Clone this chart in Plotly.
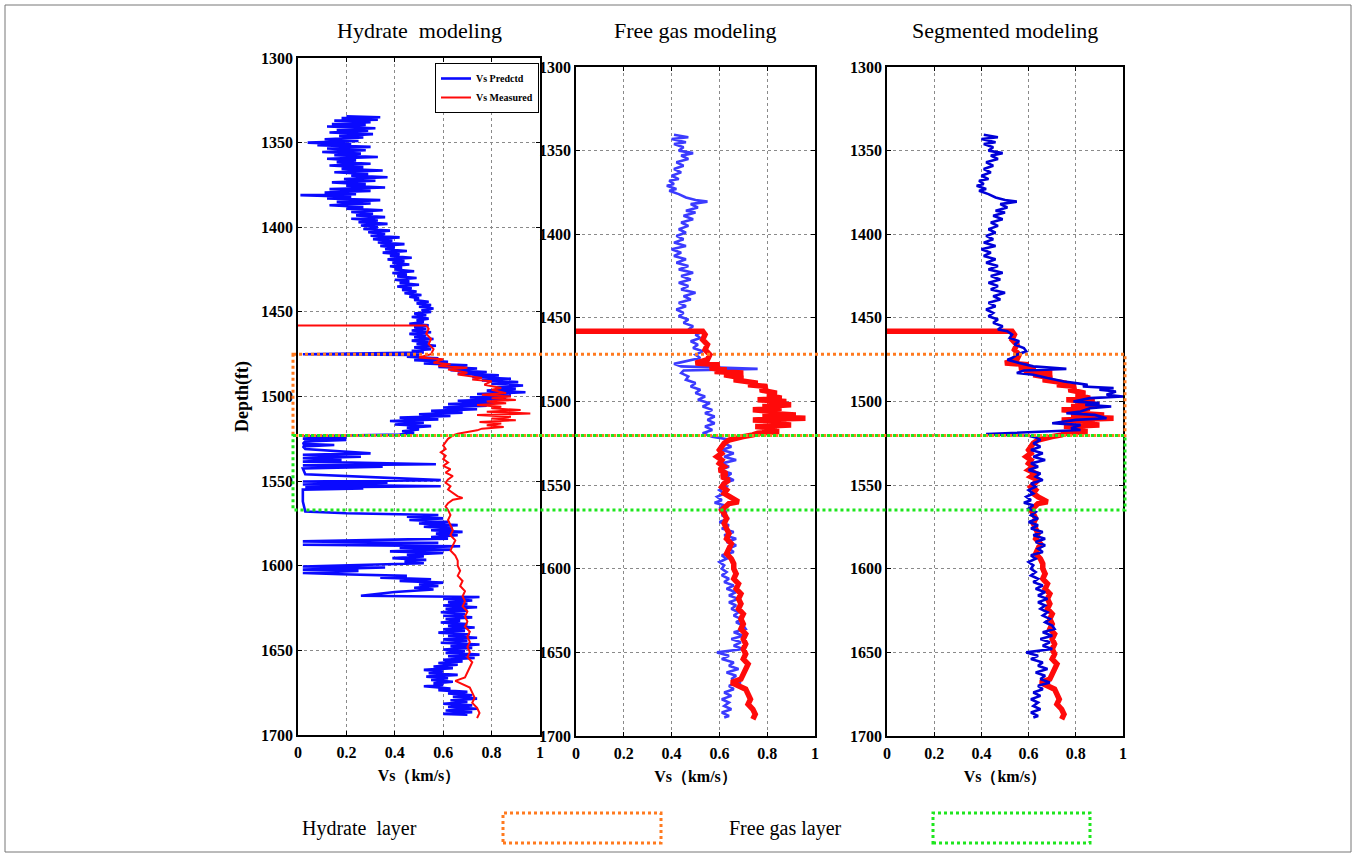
import plotly.graph_objects as go

# ---------------- data ----------------
depth_ticks = [1300, 1350, 1400, 1450, 1500, 1550, 1600, 1650, 1700]
vs_ticks = [0, 0.2, 0.4, 0.6, 0.8, 1]
vs_tick_labels = ["0", "0.2", "0.4", "0.6", "0.8", "1"]

panel_titles = ["Hydrate  modeling", "Free gas modeling", "Segmented modeling"]

# layer intervals (ft): top, bottom
hydrate_layer = [1475, 1523]
free_gas_layer = [1523, 1567]

# measured Vs (km/s)
meas_depth = [1458, 1458, 1460, 1463, 1466, 1469, 1472, 1475, 1477, 1478, 1480, 1481, 1482, 1483, 1484,
              1486, 1487, 1489, 1490, 1491, 1493, 1495, 1496, 1498, 1499, 1500, 1501, 1502, 1503, 1504,
              1505, 1506, 1507, 1508, 1509, 1510, 1511, 1512, 1513, 1514, 1515, 1516, 1517, 1518, 1519,
              1520, 1521, 1522, 1523, 1525, 1527, 1529, 1531, 1533, 1535, 1537, 1539, 1541, 1543, 1545,
              1547, 1549, 1551, 1553, 1555, 1557, 1559, 1560, 1561, 1563, 1565, 1567, 1570, 1573, 1576,
              1579, 1582, 1585, 1588, 1591, 1594, 1597, 1600, 1603, 1606, 1609, 1612, 1615, 1618, 1621,
              1624, 1627, 1630, 1633, 1636, 1639, 1642, 1645, 1648, 1651, 1654, 1657, 1660, 1663, 1666,
              1668, 1670, 1672, 1675, 1678, 1681, 1684, 1687, 1690]
meas_vs = [0.0, 0.53, 0.54, 0.53, 0.55, 0.54, 0.56, 0.55, 0.50, 0.60, 0.56, 0.63, 0.58, 0.70, 0.62,
           0.70, 0.66, 0.76, 0.72, 0.80, 0.77, 0.84, 0.80, 0.86, 0.76, 0.88, 0.80, 0.90, 0.78, 0.86,
           0.74, 0.84, 0.80, 0.92, 0.78, 0.96, 0.74, 0.88, 0.80, 0.90, 0.75, 0.84, 0.78, 0.85, 0.76,
           0.74, 0.70, 0.66, 0.64, 0.62, 0.61, 0.60, 0.61, 0.59, 0.61, 0.60, 0.62, 0.60, 0.63, 0.61,
           0.64, 0.62, 0.61, 0.63, 0.62, 0.64, 0.66, 0.68, 0.64, 0.62, 0.61, 0.62, 0.63, 0.62, 0.63,
           0.64, 0.63, 0.65, 0.64, 0.63, 0.65, 0.66, 0.66, 0.67, 0.66, 0.68, 0.67, 0.69, 0.68, 0.69,
           0.68, 0.70, 0.69, 0.70, 0.69, 0.71, 0.70, 0.71, 0.70, 0.71, 0.70, 0.72, 0.71, 0.70, 0.69,
           0.65, 0.68, 0.71, 0.72, 0.73, 0.72, 0.74, 0.75, 0.74]

# predicted Vs, hydrate modeling
hyd_depth = [1334.5, 1335.0, 1335.5, 1336.5, 1337.0, 1338.0, 1339.0, 1339.5, 1340.5, 1341.5, 1342.5, 1343.0,
             1344.0, 1345.0, 1346.0, 1347.0, 1348.0, 1349.0, 1350.0, 1351.0, 1351.5, 1352.5, 1353.5, 1354.5,
             1355.5, 1356.5, 1357.5, 1358.5, 1359.5, 1360.5, 1361.5, 1362.5, 1363.5, 1364.5, 1365.5, 1366.5,
             1367.5, 1368.5, 1369.5, 1370.5, 1371.5, 1372.5, 1373.5, 1374.5, 1375.5, 1376.5, 1377.5, 1378.5,
             1379.5, 1380.5, 1381.0, 1382.0, 1383.0, 1384.0, 1385.0, 1386.0, 1387.0, 1388.0, 1389.0, 1390.0,
             1391.0, 1392.0, 1393.0, 1394.0, 1395.0, 1396.0, 1397.0, 1398.0, 1399.0, 1400.0, 1401.0, 1402.0,
             1403.0, 1404.0, 1405.0, 1406.0, 1407.0, 1408.0, 1409.0, 1410.0, 1411.0, 1412.0, 1413.0, 1414.0,
             1415.0, 1416.0, 1417.0, 1418.0, 1419.0, 1420.0, 1421.0, 1422.0, 1423.0, 1424.0, 1425.0, 1426.0,
             1427.0, 1428.0, 1429.0, 1430.0, 1431.0, 1432.0, 1433.0, 1434.0, 1435.0, 1436.0, 1437.0, 1438.0,
             1439.0, 1440.0, 1441.0, 1442.0, 1443.0, 1444.0, 1445.0, 1446.0, 1447.0, 1448.0, 1449.0, 1450.0,
             1451.0, 1452.0, 1453.0, 1454.0, 1455.0, 1456.0, 1457.0, 1458.0, 1459.0, 1460.0, 1461.0, 1462.0,
             1463.0, 1464.0, 1465.0, 1466.0, 1467.0, 1468.0, 1469.0, 1470.0, 1471.0, 1472.0, 1473.0, 1474.0,
             1475.0, 1475.5, 1476.5, 1477.5, 1478.5, 1479.5, 1480.5, 1481.5, 1482.5, 1483.5, 1484.5, 1485.5,
             1486.5, 1487.5, 1488.5, 1489.5, 1490.5, 1491.5, 1492.5, 1493.5, 1494.5, 1495.5, 1496.5, 1497.5,
             1498.5, 1499.5, 1500.5, 1501.5, 1502.5, 1503.5, 1504.5, 1505.5, 1506.5, 1507.5, 1508.5, 1509.5,
             1510.5, 1511.5, 1512.5, 1513.5, 1514.5, 1515.5, 1516.5, 1517.5, 1518.5, 1519.5, 1520.5, 1521.5,
             1522.5, 1523.5, 1524.5, 1525.0, 1525.7, 1526.5, 1528.0, 1528.7, 1529.5, 1531.0, 1533.6, 1534.5,
             1535.6, 1536.5, 1537.5, 1538.5, 1540.0, 1540.7, 1541.5, 1542.5, 1546.0, 1549.4, 1550.2, 1551.0,
             1552.0, 1553.0, 1553.7, 1554.3, 1555.0, 1562.0, 1568.0, 1569.0, 1570.0, 1571.0, 1572.0, 1573.0,
             1574.0, 1575.0, 1576.0, 1577.0, 1578.0, 1579.0, 1580.0, 1581.0, 1582.0, 1583.0, 1584.0, 1585.6,
             1586.5, 1587.6, 1588.5, 1589.5, 1590.5, 1591.5, 1592.5, 1593.5, 1594.5, 1595.5, 1596.5, 1597.5,
             1598.5, 1600.4, 1601.0, 1602.3, 1603.0, 1604.3, 1605.0, 1606.0, 1607.0, 1608.0, 1609.0, 1610.0,
             1611.0, 1612.0, 1613.0, 1614.0, 1615.5, 1617.7, 1618.5, 1619.5, 1620.5, 1621.5, 1622.5, 1623.5,
             1624.5, 1625.5, 1626.5, 1627.5, 1628.5, 1629.5, 1630.5, 1631.5, 1632.5, 1633.5, 1634.5, 1635.5,
             1636.5, 1637.5, 1638.5, 1639.5, 1640.5, 1641.5, 1642.5, 1643.5, 1644.5, 1645.5, 1646.5, 1647.5,
             1648.5, 1649.5, 1650.5, 1651.5, 1652.5, 1653.5, 1654.5, 1655.5, 1656.5, 1657.5, 1658.5, 1659.5,
             1660.5, 1661.5, 1662.5, 1663.5, 1664.5, 1665.5, 1666.5, 1667.5, 1668.5, 1669.5, 1670.5, 1671.2,
             1672.5, 1673.5, 1674.5, 1675.5, 1676.5, 1677.5, 1678.5, 1679.5, 1680.5, 1681.5, 1682.5, 1683.5,
             1684.5, 1685.5, 1686.5, 1687.5, 1688.0]
hyd_vs = [0.20, 0.34, 0.18, 0.33, 0.15, 0.30, 0.14, 0.28, 0.12, 0.32, 0.16, 0.29,
          0.13, 0.31, 0.17, 0.27, 0.11, 0.25, 0.04, 0.22, 0.08, 0.30, 0.12, 0.28,
          0.10, 0.26, 0.15, 0.33, 0.12, 0.24, 0.16, 0.30, 0.13, 0.27, 0.18, 0.35,
          0.15, 0.29, 0.22, 0.37, 0.19, 0.32, 0.14, 0.28, 0.20, 0.36, 0.13, 0.30,
          0.11, 0.24, 0.01, 0.22, 0.12, 0.34, 0.16, 0.30, 0.13, 0.27, 0.20, 0.35,
          0.22, 0.31, 0.24, 0.36, 0.22, 0.33, 0.25, 0.37, 0.26, 0.33, 0.27, 0.38,
          0.29, 0.36, 0.30, 0.42, 0.31, 0.39, 0.33, 0.44, 0.34, 0.40, 0.36, 0.45,
          0.35, 0.42, 0.38, 0.47, 0.37, 0.44, 0.39, 0.46, 0.38, 0.43, 0.40, 0.48,
          0.39, 0.45, 0.41, 0.49, 0.40, 0.46, 0.42, 0.50, 0.41, 0.47, 0.43, 0.49,
          0.44, 0.51, 0.46, 0.50, 0.48, 0.54, 0.49, 0.55, 0.50, 0.56, 0.51, 0.55,
          0.48, 0.53, 0.47, 0.54, 0.49, 0.52, 0.46, 0.54, 0.48, 0.53, 0.47, 0.55,
          0.46, 0.53, 0.48, 0.56, 0.47, 0.54, 0.49, 0.57, 0.48, 0.55, 0.47, 0.52,
          0.02, 0.50, 0.45, 0.58, 0.48, 0.62, 0.52, 0.70, 0.58, 0.74, 0.63, 0.78,
          0.66, 0.83, 0.72, 0.88, 0.76, 0.91, 0.80, 0.93, 0.82, 0.90, 0.78, 0.94,
          0.74, 0.88, 0.71, 0.86, 0.66, 0.82, 0.62, 0.78, 0.60, 0.74, 0.55, 0.68,
          0.50, 0.63, 0.42, 0.58, 0.38, 0.52, 0.40, 0.55, 0.45, 0.50, 0.43, 0.48,
          0.42, 0.02, 0.20, 0.02, 0.20, 0.03, 0.02, 0.15, 0.02, 0.03, 0.30, 0.02,
          0.26, 0.02, 0.18, 0.02, 0.57, 0.02, 0.35, 0.02, 0.03, 0.59, 0.02, 0.37,
          0.02, 0.59, 0.03, 0.27, 0.02, 0.02, 0.03, 0.20, 0.58, 0.45, 0.60, 0.46,
          0.62, 0.50, 0.66, 0.52, 0.64, 0.55, 0.68, 0.57, 0.66, 0.55, 0.62, 0.02,
          0.58, 0.02, 0.67, 0.42, 0.63, 0.38, 0.60, 0.45, 0.52, 0.39, 0.53, 0.44,
          0.52, 0.02, 0.36, 0.02, 0.25, 0.02, 0.18, 0.45, 0.34, 0.55, 0.42, 0.60,
          0.50, 0.58, 0.48, 0.56, 0.40, 0.26, 0.75, 0.60, 0.72, 0.62, 0.70, 0.60,
          0.74, 0.61, 0.70, 0.59, 0.69, 0.60, 0.72, 0.61, 0.67, 0.59, 0.70, 0.62,
          0.73, 0.60, 0.69, 0.58, 0.71, 0.62, 0.74, 0.60, 0.70, 0.59, 0.75, 0.63,
          0.72, 0.60, 0.69, 0.61, 0.75, 0.62, 0.73, 0.60, 0.68, 0.58, 0.66, 0.56,
          0.64, 0.52, 0.60, 0.54, 0.66, 0.53, 0.62, 0.55, 0.64, 0.56, 0.60, 0.52,
          0.63, 0.58, 0.70, 0.62, 0.72, 0.64, 0.74, 0.63, 0.70, 0.60, 0.72, 0.62,
          0.74, 0.61, 0.72, 0.60, 0.70]

# predicted Vs, free gas modeling
fg_depth = [1340.5, 1342, 1343, 1345, 1346, 1348, 1350, 1351.5, 1353, 1355, 1357, 1359, 1361, 1363, 1365,
            1367, 1368, 1370, 1371, 1373, 1374, 1376, 1378, 1379.5, 1380.5, 1382, 1384, 1386, 1387, 1389,
            1391, 1393, 1395, 1397, 1399, 1401, 1403, 1405, 1407, 1409, 1411, 1413, 1415, 1417, 1419,
            1421, 1423, 1425, 1427, 1429, 1431, 1433, 1435, 1437, 1439, 1441, 1443, 1445, 1447, 1449,
            1451, 1453, 1455, 1457, 1458.5, 1460, 1462, 1464, 1466, 1468, 1470, 1472, 1474, 1476, 1477.5,
            1479, 1480.5, 1481.5, 1483, 1485, 1487, 1489, 1491, 1493, 1495, 1497, 1499, 1501, 1503, 1505,
            1507, 1509, 1511, 1513, 1515, 1517, 1519, 1521, 1523, 1525, 1527, 1529, 1531, 1533, 1535,
            1537, 1539, 1541, 1543, 1545, 1547, 1549, 1551, 1553, 1555, 1557, 1559, 1560.5, 1562, 1564,
            1566, 1568, 1570, 1572, 1574, 1576, 1578, 1580, 1582, 1584, 1586, 1588, 1590, 1592, 1594,
            1596, 1598, 1600, 1602, 1604, 1606, 1608, 1610, 1612, 1614, 1616, 1618, 1620, 1622, 1624,
            1626, 1628, 1630, 1632, 1634, 1636, 1638, 1640, 1642, 1644, 1646, 1648, 1650, 1652, 1654,
            1656, 1658, 1660, 1662, 1664, 1666, 1668, 1670, 1672, 1674, 1676, 1678, 1680, 1682, 1684,
            1686, 1688, 1689]
fg_vs = [0.41, 0.47, 0.40, 0.46, 0.41, 0.45, 0.43, 0.49, 0.44, 0.47, 0.42, 0.45, 0.41, 0.44, 0.40,
         0.43, 0.39, 0.41, 0.38, 0.42, 0.39, 0.43, 0.46, 0.50, 0.55, 0.48, 0.51, 0.46, 0.50, 0.45,
         0.49, 0.44, 0.47, 0.43, 0.46, 0.42, 0.45, 0.41, 0.46, 0.40, 0.44, 0.41, 0.46, 0.42, 0.47,
         0.43, 0.49, 0.44, 0.48, 0.43, 0.47, 0.44, 0.50, 0.45, 0.48, 0.43, 0.46, 0.42, 0.45, 0.43,
         0.47, 0.45, 0.49, 0.47, 0.53, 0.50, 0.52, 0.48, 0.51, 0.49, 0.53, 0.50, 0.52, 0.46, 0.41,
         0.44, 0.76, 0.45, 0.44, 0.47, 0.46, 0.50, 0.48, 0.52, 0.50, 0.54, 0.51, 0.56, 0.53, 0.57,
         0.54, 0.58, 0.55, 0.58, 0.54, 0.57, 0.53, 0.57, 0.65, 0.62, 0.65, 0.61, 0.66, 0.62, 0.67,
         0.61, 0.64, 0.60, 0.65, 0.63, 0.66, 0.61, 0.63, 0.60, 0.62, 0.59, 0.61, 0.58, 0.62, 0.60,
         0.63, 0.61, 0.64, 0.60, 0.64, 0.61, 0.66, 0.62, 0.67, 0.63, 0.67, 0.64, 0.66, 0.61, 0.63,
         0.60, 0.62, 0.61, 0.63, 0.61, 0.64, 0.62, 0.66, 0.63, 0.67, 0.64, 0.68, 0.64, 0.67, 0.65,
         0.68, 0.66, 0.69, 0.67, 0.70, 0.71, 0.66, 0.70, 0.65, 0.69, 0.66, 0.70, 0.59, 0.64, 0.61,
         0.66, 0.64, 0.68, 0.63, 0.67, 0.65, 0.69, 0.64, 0.66, 0.62, 0.65, 0.61, 0.64, 0.62, 0.65,
         0.61, 0.64, 0.62]

# predicted Vs, segmented modeling (hydrate interval; outside it the free gas model is used)
seg_hyd_depth = [1458, 1460, 1462, 1464, 1466, 1468, 1470, 1472, 1474, 1475, 1477, 1479, 1480.5, 1481.5,
                 1483, 1484, 1486, 1487, 1488, 1489, 1490, 1491, 1492, 1493, 1494, 1496, 1497, 1498,
                 1500, 1501, 1502, 1503, 1504, 1506, 1507, 1508, 1510, 1511, 1512, 1513, 1514, 1516,
                 1517, 1518, 1519.5, 1520.5, 1521.5]
seg_hyd_vs = [0.51, 0.53, 0.52, 0.56, 0.54, 0.58, 0.59, 0.55, 0.53, 0.51, 0.56, 0.62, 0.76, 0.58,
              0.55, 0.62, 0.68, 0.71, 0.75, 0.80, 0.85, 0.83, 0.96, 0.90, 0.97, 0.93, 1.00, 0.86,
              0.79, 0.90, 0.84, 0.95, 0.86, 0.82, 0.76, 0.88, 0.93, 0.80, 0.74, 0.70, 0.82, 0.78,
              0.82, 0.65, 0.42, 0.60, 0.63]

seg_depth = ([d for d in fg_depth if d < seg_hyd_depth[0]] + seg_hyd_depth +
             [d for d in fg_depth if d > seg_hyd_depth[-1]])
seg_vs = ([v for d, v in zip(fg_depth, fg_vs) if d < seg_hyd_depth[0]] + seg_hyd_vs +
          [v for d, v in zip(fg_depth, fg_vs) if d > seg_hyd_depth[-1]])

# ---------------- layout helpers ----------------
W, H = 1356, 857
SERIF = "Liberation Serif, Times New Roman, serif"
BLUE = "#0a0aff"
RED = "#ff0a0a"
ORANGE = "#ff7a1f"
GREEN = "#1ee61e"

x_domains = [[298 / W, 540 / W], [576 / W, 815 / W], [887 / W, 1123 / W]]
y_domains = [[1 - 735 / H, 1 - 58 / H], [1 - 736 / H, 1 - 67 / H], [1 - 736 / H, 1 - 67 / H]]

fig = go.Figure()

# panel 1
fig.add_trace(go.Scatter(x=hyd_vs, y=hyd_depth, mode="lines", name="Vs Predctd",
                         line=dict(color=BLUE, width=2.6), xaxis="x", yaxis="y"))
fig.add_trace(go.Scatter(x=meas_vs, y=meas_depth, mode="lines", name="Vs Measured",
                         line=dict(color=RED, width=2), xaxis="x", yaxis="y"))
# panel 2
fig.add_trace(go.Scatter(x=fg_vs, y=fg_depth, mode="lines", showlegend=False,
                         line=dict(color="#3b3bff", width=2.6), xaxis="x2", yaxis="y2"))
fig.add_trace(go.Scatter(x=meas_vs, y=meas_depth, mode="lines", showlegend=False,
                         line=dict(color=RED, width=5.5), xaxis="x2", yaxis="y2"))
# panel 3
fig.add_trace(go.Scatter(x=meas_vs, y=meas_depth, mode="lines", showlegend=False,
                         line=dict(color=RED, width=5.5), xaxis="x3", yaxis="y3"))
fig.add_trace(go.Scatter(x=seg_vs, y=seg_depth, mode="lines", showlegend=False,
                         line=dict(color="#0000d8", width=2.6), xaxis="x3", yaxis="y3"))

tickfont = dict(family=SERIF, size=16, color="black", weight="bold")
common_axis = dict(showgrid=True, gridcolor="#8a8a8a", griddash="dot", gridwidth=1.2,
                   showline=True, linecolor="black", linewidth=1.6, mirror="ticks",
                   ticks="inside", ticklen=4, tickcolor="black", zeroline=False,
                   tickfont=tickfont, automargin=False)

layout = dict(width=W, height=H, margin=dict(l=0, r=0, t=0, b=0),
              paper_bgcolor="white", plot_bgcolor="white", showlegend=True)

for i in range(3):
    sfx = "" if i == 0 else str(i + 1)
    layout["xaxis" + sfx] = dict(common_axis, domain=x_domains[i], range=[0, 1],
                                 tickvals=vs_ticks, ticktext=vs_tick_labels,
                                 anchor="y" + sfx, ticklabelstandoff=2,
                                 title=dict(text="Vs（km/s）", standoff=10,
                                            font=dict(family=SERIF, size=16, color="black", weight="bold")))
    ydict = dict(common_axis, domain=y_domains[i], range=[depth_ticks[-1], depth_ticks[0]],
                 tickvals=depth_ticks, anchor="x" + sfx)
    if i == 0:
        ydict["title"] = dict(text="Depth(ft)", standoff=8,
                              font=dict(family=SERIF, size=18, color="black", weight="bold"))
    layout["yaxis" + sfx] = ydict

layout["legend"] = dict(x=539 / W, y=1 - 63 / H, xanchor="right", yanchor="top",
                        bgcolor="white", bordercolor="black", borderwidth=1,
                        font=dict(family=SERIF, size=10, color="black", weight="bold"),
                        tracegroupgap=0, itemwidth=30)

annotations = []
for i, t in enumerate(panel_titles):
    annotations.append(dict(text=t, x=(x_domains[i][0] + x_domains[i][1]) / 2, y=1 - 31 / H,
                            xref="paper", yref="paper", showarrow=False, xanchor="center",
                            yanchor="middle", font=dict(family=SERIF, size=22, color="black")))
annotations.append(dict(text="Hydrate  layer", x=300 / W, y=1 - 828 / H, xref="paper", yref="paper",
                        showarrow=False, xanchor="left", yanchor="middle",
                        font=dict(family=SERIF, size=20, color="black")))
annotations.append(dict(text="Free gas layer", x=727 / W, y=1 - 828 / H, xref="paper", yref="paper",
                        showarrow=False, xanchor="left", yanchor="middle",
                        font=dict(family=SERIF, size=20, color="black")))
layout["annotations"] = annotations

shapes = [
    dict(type="rect", xref="paper", yref="y", x0=293 / W, x1=1125 / W,
         y0=hydrate_layer[0], y1=hydrate_layer[1], line=dict(color=ORANGE, width=3, dash="dot"),
         layer="above"),
    dict(type="rect", xref="paper", yref="y", x0=293 / W, x1=1125 / W,
         y0=free_gas_layer[0], y1=free_gas_layer[1], line=dict(color=GREEN, width=3, dash="dot"),
         layer="above"),
    dict(type="rect", xref="paper", yref="paper", x0=503 / W, x1=661 / W, y0=1 - 843 / H, y1=1 - 813 / H,
         line=dict(color=ORANGE, width=3, dash="dot")),
    dict(type="rect", xref="paper", yref="paper", x0=933 / W, x1=1090 / W, y0=1 - 843 / H, y1=1 - 813 / H,
         line=dict(color=GREEN, width=3, dash="dot")),
    dict(type="rect", xref="paper", yref="paper", x0=5 / W, x1=1351 / W, y0=1 - 852 / H, y1=1 - 5 / H,
         line=dict(color="#777777", width=1)),
]
layout["shapes"] = shapes

fig.update_layout(**layout)
fig.write_html("out.html")
